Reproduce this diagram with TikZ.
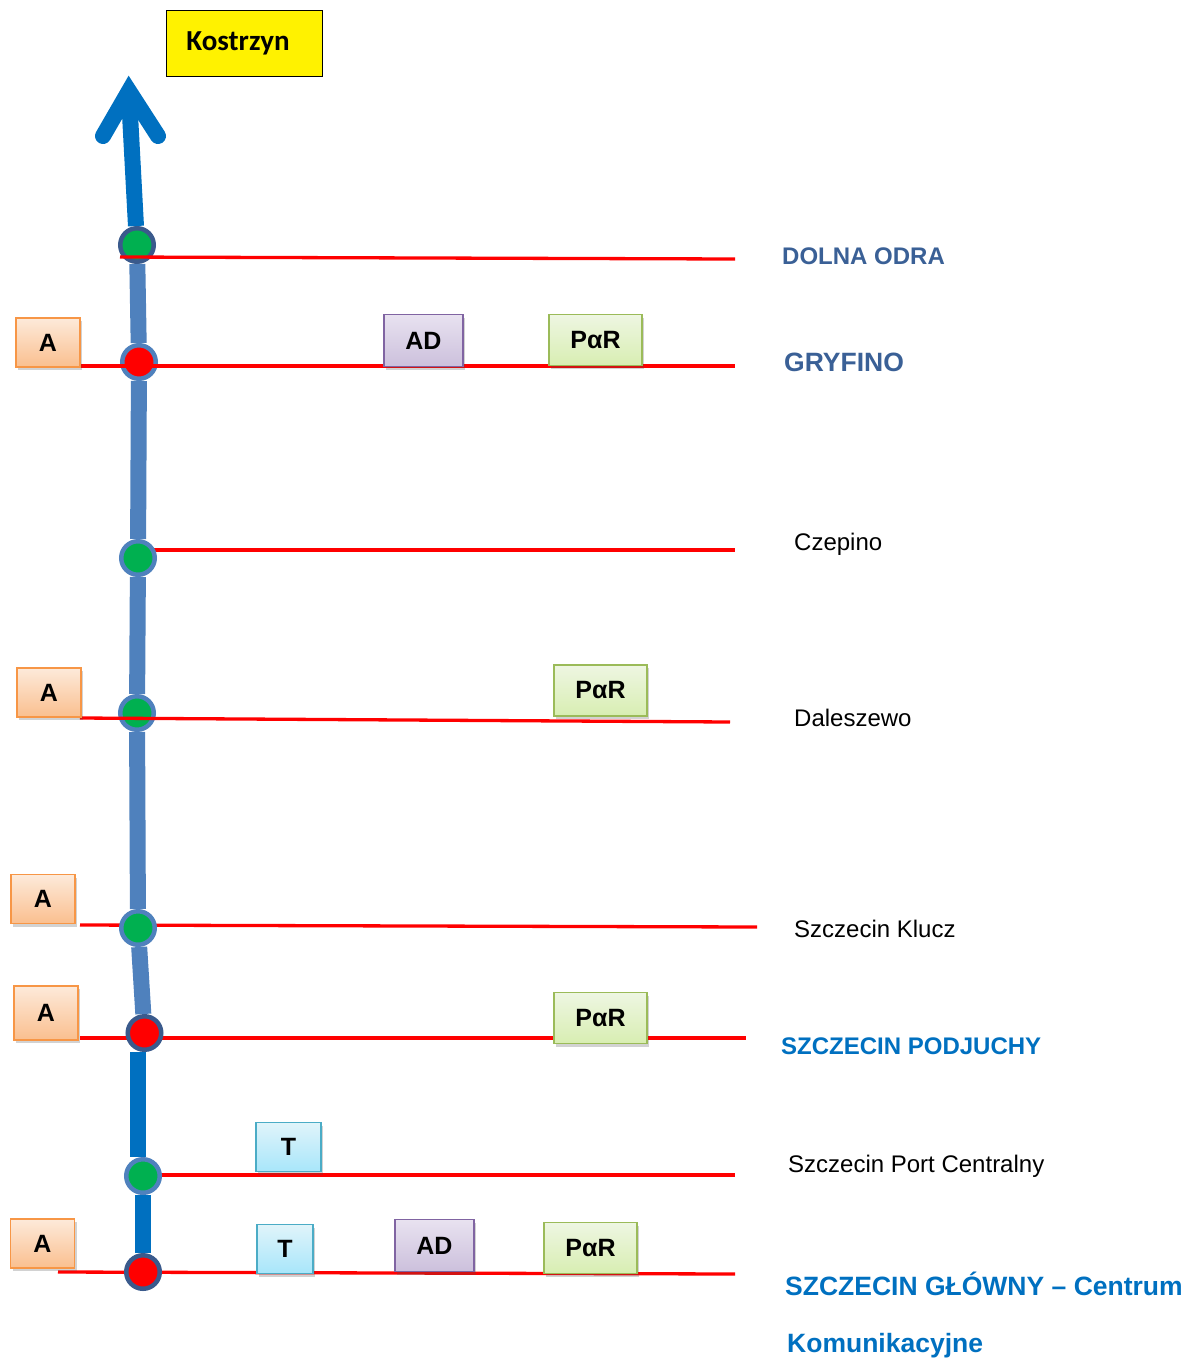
\documentclass[tikz,border=0pt]{standalone}
\usepackage{fontspec}
\setmainfont{Liberation Sans}
\newfontfamily\calibrifont{Carlito}
\usetikzlibrary{shadows}

\definecolor{lineblue}{RGB}{79,129,189}
\definecolor{darkblue}{RGB}{0,112,192}
\definecolor{ringdark}{RGB}{58,90,140}
\definecolor{stgreen}{RGB}{0,176,80}
\definecolor{stred}{RGB}{255,0,0}
\definecolor{navylabel}{RGB}{58,96,150}
\definecolor{orangeedge}{RGB}{247,150,70}
\definecolor{orangetop}{RGB}{253,234,218}
\definecolor{orangebot}{RGB}{250,191,143}
\definecolor{purpleedge}{RGB}{128,100,162}
\definecolor{purpletop}{RGB}{232,226,240}
\definecolor{purplebot}{RGB}{204,192,220}
\definecolor{greenedge}{RGB}{155,187,89}
\definecolor{greentop}{RGB}{238,246,226}
\definecolor{greenbot}{RGB}{216,238,178}
\definecolor{cyanedge}{RGB}{75,172,198}
\definecolor{cyantop}{RGB}{224,244,250}
\definecolor{cyanbot}{RGB}{168,230,250}

\tikzset{
  station/.style={circle, minimum size=33.5pt, inner sep=0pt, line width=4.5pt, draw=lineblue},
  stopgreen/.style={station, fill=stgreen},
  stopred/.style={station, fill=stred},
  darkring/.style={draw=ringdark},
  track/.style={line width=16pt, lineblue},
  trackdark/.style={line width=16pt, darkblue},
  redline/.style={line width=3.3pt, stred},
  tag/.style={line width=1.5pt, inner sep=0pt,
    font=\bfseries\fontsize{25}{30}\selectfont,
    drop shadow={shadow xshift=2pt, shadow yshift=-3pt, opacity=0.25, fill=black!70}},
  atag/.style={tag, draw=orangeedge, top color=orangetop, bottom color=orangebot,
    minimum width=64pt, minimum height=49pt},
  adtag/.style={tag, draw=purpleedge, top color=purpletop, bottom color=purplebot,
    minimum width=79pt, minimum height=52pt},
  prtag/.style={tag, draw=greenedge, top color=greentop, bottom color=greenbot,
    minimum width=93pt, minimum height=51pt},
  ttag/.style={tag, draw=cyanedge, top color=cyantop, bottom color=cyanbot,
    minimum height=49pt},
  bluelabel/.style={anchor=west, inner sep=0pt, font=\bfseries\fontsize{26.5}{30}\selectfont},
  smallbluelabel/.style={anchor=west, inner sep=0pt, font=\bfseries\fontsize{24}{28}\selectfont},
  plainlabel/.style={anchor=west, inner sep=0pt, font=\fontsize{24}{28}\selectfont},
}

\begin{document}
\begin{tikzpicture}[x=1pt, y=-1pt]
\useasboundingbox (0,0) rectangle (1192,1361);

% end points of the cross lines
\coordinate (r1a) at (120,257);  \coordinate (r1b) at (735,259);
\coordinate (r2a) at (80,366);   \coordinate (r2b) at (735,366);
\coordinate (r3a) at (152,550);  \coordinate (r3b) at (735,550);
\coordinate (r4a) at (80,718);   \coordinate (r4b) at (730,722);
\coordinate (r5a) at (80,925);   \coordinate (r5b) at (757,927);
\coordinate (r6a) at (80,1038);  \coordinate (r6b) at (746,1038);
\coordinate (r7a) at (160,1175); \coordinate (r7b) at (735,1175);
\coordinate (r8a) at (58,1272);  \coordinate (r8b) at (735,1274);

% cross lines lying under their stations
\draw[redline] (r3a) -- (r3b);
\draw[redline] (r5a) -- (r5b);
\draw[redline] (r6a) -- (r6b);
\draw[redline] (r7a) -- (r7b);
\draw[redline] (r8a) -- (r8b);

% stations
\node[stopgreen, darkring] (s1) at (137,245) {};
\node[stopred]             (s2) at (139,362) {};
\node[stopgreen]           (s3) at (138,558) {};
\node[stopgreen]           (s4) at (137,713) {};
\node[stopgreen]           (s5) at (138,928) {};
\node[stopred, darkring]   (s6) at (144.5,1033) {};
\node[stopgreen]           (s7) at (143,1176) {};
\node[stopred, darkring]   (s8) at (143,1272) {};

% the line
\draw[track] (s1) -- (s2);
\draw[track] (s2) -- (s3);
\draw[track] (s3) -- (s4);
\draw[track] (s4) -- (s5);
\draw[track] (s5) -- (s6);
\draw[trackdark] ([xshift=-6.5pt]s6.south) -- ([xshift=-5pt]s7.north);
\draw[trackdark] (s7) -- (s8);

% arrow towards Kostrzyn
\coordinate (tip) at (129,91);
\draw[trackdark] (s1) -- (129.5,105);
\draw[trackdark, line width=16pt, line cap=round, line join=miter]
  (tip) ++(-26,45) -- (tip) -- ++(29,45);

% cross lines lying over their stations
\draw[redline] (r1a) -- (r1b);
\draw[redline] (r2a) -- (r2b);
\draw[redline] (r4a) -- (r4b);

% destination box
\node[draw=black, line width=1pt, fill=yellow, minimum width=156pt, minimum height=66pt,
      font=\calibrifont\bfseries\fontsize{29}{32}\selectfont] (kostrzyn) at (244,43)
      {Kostrzyn\hspace*{12pt}};

% facility tags
\node[atag] (a1) at (48,342.5) {A};
\node[atag] (a2) at (49,692.5) {A};
\node[atag] (a3) at (43,899) {A};
\node[atag, minimum height=54pt] (a4) at (46,1013) {A};
\node[atag] (a5) at (42.5,1243.5) {A};

\node[adtag] (ad1) at (423.5,340.5) {AD};
\node[adtag] (ad2) at (434.5,1245.5) {AD};

\node[prtag] (p1) at (595.5,340) {PαR};
\node[prtag] (p2) at (600.5,690.5) {PαR};
\node[prtag] (p3) at (600.5,1018) {PαR};
\node[prtag] (p4) at (590.5,1248) {PαR};

\node[ttag, minimum width=65pt] (t1) at (288.5,1147) {T};
\node[ttag, minimum width=56pt] (t2) at (285,1249) {T};

% station names
\node[smallbluelabel, navylabel] (n1) at (782,256) {DOLNA ODRA};
\node[bluelabel, navylabel] (n2) at (784,362) {GRYFINO};
\node[plainlabel] (n3) at (794,544) {Czepino};
\node[plainlabel] (n4) at (794,718) {Daleszewo};
\node[plainlabel] (n5) at (794,929) {Szczecin Klucz};
\node[smallbluelabel, darkblue] (n6) at (781,1046) {SZCZECIN PODJUCHY};
\node[plainlabel] (n7) at (788,1166) {Szczecin Port Centralny};
\node[bluelabel, darkblue] (n8) at (785,1284) {SZCZECIN GŁÓWNY – Centrum};
\node[bluelabel, darkblue] (n9) at (787,1346) {Komunikacyjne};
\end{tikzpicture}
\end{document}
